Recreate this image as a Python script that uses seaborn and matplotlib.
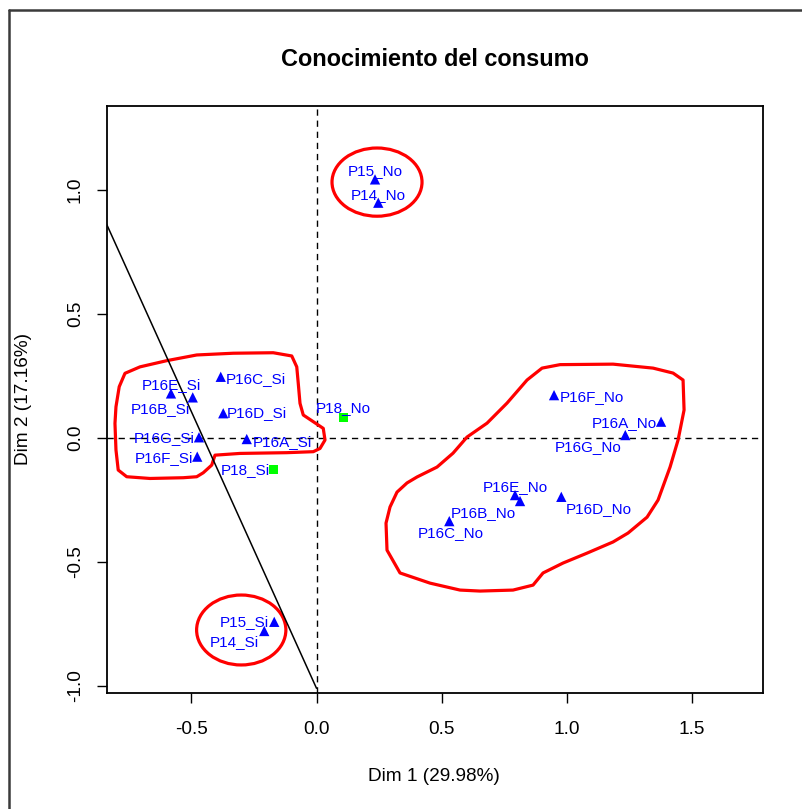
import numpy as np
import pandas as pd
import seaborn as sns
import matplotlib
matplotlib.use("Agg")
import matplotlib.pyplot as plt
from matplotlib.lines import Line2D
from matplotlib.patches import Ellipse, Polygon

# Category coordinates on the first two dimensions
categories = ["P15_No", "P14_No", "P16F_No", "P16A_No", "P16G_No", "P16E_No",
              "P16B_No", "P16D_No", "P16C_No",
              "P16C_Si", "P16E_Si", "P16B_Si", "P16D_Si", "P16G_Si", "P16A_Si",
              "P16F_Si", "P15_Si", "P14_Si"]
dim1 = [0.234, 0.247, 0.950, 1.378, 1.235, 0.794, 0.814, 0.979, 0.531,
        -0.383, -0.582, -0.495, -0.373, -0.470, -0.279, -0.477, -0.169, -0.209]
dim2 = [1.041, 0.947, 0.171, 0.064, 0.010, -0.232, -0.256, -0.239, -0.337,
        0.245, 0.178, 0.162, 0.098, 0.001, -0.006, -0.077, -0.743, -0.780]

# Supplementary categories
sup_categories = ["P18_No", "P18_Si"]
sup_dim1 = [0.108, -0.173]
sup_dim2 = [0.082, -0.128]

# Label placement: (horizontal alignment, dx px, dy px)
label_place = {
    "P15_No": ("center", 0, 8), "P14_No": ("center", 0, 8),
    "P16F_No": ("left", 6, -2), "P16A_No": ("right", -4, -1),
    "P16G_No": ("right", -4, -12), "P16E_No": ("center", 0, 8),
    "P16B_No": ("right", -4, -12), "P16D_No": ("left", 4, -12),
    "P16C_No": ("center", 1, -12),
    "P16C_Si": ("left", 5, -2), "P16E_Si": ("center", 0, 8),
    "P16B_Si": ("right", -3, -12), "P16D_Si": ("left", 4, 0),
    "P16G_Si": ("right", -4, -1), "P16A_Si": ("left", 6, -3),
    "P16F_Si": ("right", -4, -1), "P15_Si": ("right", -5, 0),
    "P14_Si": ("right", -5, -11),
    "P18_No": ("center", 0, 9), "P18_Si": ("right", -3, -1),
}

# Hand-drawn group outlines (data coordinates)
left_group_x = [-0.766, -0.706, -0.599, -0.479, -0.333, -0.173, -0.099, -0.079, -0.073,
                -0.066, -0.053, -0.013, 0.027, 0.034, 0.014, -0.013, -0.119, -0.306,
                -0.406, -0.419, -0.453, -0.479, -0.533, -0.666, -0.759, -0.793,
                -0.802, -0.806, -0.802, -0.789]
left_group_y = [0.259, 0.285, 0.310, 0.333, 0.340, 0.342, 0.329, 0.285, 0.219,
                0.138, 0.091, 0.064, 0.037, -0.010, -0.044, -0.057, -0.061, -0.064,
                -0.071, -0.111, -0.142, -0.158, -0.162, -0.165, -0.158, -0.131,
                -0.050, 0.057, 0.124, 0.205]
right_group_x = [0.902, 0.974, 1.186, 1.346, 1.426, 1.466, 1.470, 1.446, 1.414, 1.366,
                 1.322, 1.246, 1.186, 1.082, 0.986, 0.906, 0.866, 0.786, 0.654, 0.574,
                 0.454, 0.334, 0.282, 0.278, 0.294, 0.322, 0.362, 0.402, 0.482, 0.546,
                 0.602, 0.682, 0.762, 0.842]
right_group_y = [0.280, 0.294, 0.296, 0.280, 0.260, 0.232, 0.111, -0.010, -0.119, -0.252,
                 -0.321, -0.385, -0.421, -0.466, -0.506, -0.546, -0.595, -0.615, -0.619,
                 -0.615, -0.587, -0.546, -0.454, -0.345, -0.280, -0.220, -0.183, -0.159,
                 -0.119, -0.063, 0.002, 0.058, 0.139, 0.232]
# (center x, center y, width, height)
top_ellipse = (0.242, 1.030, 0.36, 0.275)
bottom_ellipse = (-0.301, -0.776, 0.357, 0.282)

# Separating segment
sep_x = [-0.842, 0.0]
sep_y = [0.866, -1.011]

sns.set_style("white")
plt.rcParams["font.family"] = ["Liberation Sans", "DejaVu Sans"]
plt.rcParams["text.color"] = "black"
plt.rcParams["axes.labelcolor"] = "black"
plt.rcParams["xtick.color"] = "black"
plt.rcParams["ytick.color"] = "black"

fig = plt.figure(figsize=(8.03, 8.09), dpi=100)
ax = fig.add_axes([0.1329, 0.1434, 0.8177, 0.7256])

df = pd.DataFrame({"cat": categories, "d1": dim1, "d2": dim2})
df_sup = pd.DataFrame({"cat": sup_categories, "d1": sup_dim1, "d2": sup_dim2})

ax.axhline(0, color="black", lw=1.0, ls=(0, (4.5, 3.5)), zorder=1)
ax.axvline(0, color="black", lw=1.0, ls=(0, (4.5, 3.5)), zorder=1)

sns.scatterplot(data=df, x="d1", y="d2", marker="^", color="#0000FF", s=55,
                edgecolor="none", ax=ax, zorder=3, legend=False)
sns.scatterplot(data=df_sup, x="d1", y="d2", marker="s", color="#00FF00", s=40,
                edgecolor="none", ax=ax, zorder=3, legend=False)

for frame in (df, df_sup):
    for _, row in frame.iterrows():
        ha, dx, dy = label_place[row["cat"]]
        ax.annotate(row["cat"], (row["d1"], row["d2"]), xytext=(dx, dy),
                    textcoords="offset pixels", ha=ha, va="center",
                    color="#0000FF", fontsize=11, zorder=4)

# Group outlines
red_kw = dict(fill=False, edgecolor="#FF0000", lw=2.3, joinstyle="round", zorder=2)
ax.add_patch(Polygon(np.column_stack([left_group_x, left_group_y]), closed=True, **red_kw))
ax.add_patch(Polygon(np.column_stack([right_group_x, right_group_y]), closed=True, **red_kw))
for cx, cy, w, h in (top_ellipse, bottom_ellipse):
    ax.add_patch(Ellipse((cx, cy), w, h, **red_kw))

ax.plot(sep_x, sep_y, color="black", lw=1.1, zorder=2)

ax.set_xlim(-0.839, 1.787)
ax.set_ylim(-1.030, 1.337)
ax.set_xticks([-0.5, 0.0, 0.5, 1.0, 1.5])
ax.set_xticklabels(["-0.5", "0.0", "0.5", "1.0", "1.5"])
ax.set_yticks([-1.0, -0.5, 0.0, 0.5, 1.0])
ax.set_yticklabels(["-1.0", "-0.5", "0.0", "0.5", "1.0"], rotation=90, va="center")
ax.tick_params(axis="both", direction="out", length=7.5, width=1.0, color="black",
               labelsize=13.7, labelcolor="black", bottom=True, left=True)
ax.tick_params(axis="x", pad=13)
ax.tick_params(axis="y", pad=9)
for sp in ax.spines.values():
    sp.set_color("black")
    sp.set_linewidth(1.3)

ax.set_xlabel("Dim 1 (29.98%)", fontsize=13.7, color="black")
ax.set_ylabel("Dim 2 (17.16%)", fontsize=13.7, color="black")
ax.xaxis.label.set_va("center")
ax.yaxis.label.set_va("center")
ax.xaxis.set_label_coords(0.499, -0.1430)
ax.yaxis.set_label_coords(-0.127, 0.500)

fig.text(435 / 803, 1 - 60 / 809, "Conocimiento del consumo", ha="center", va="center",
         fontsize=16.9, fontweight="bold", color="black")

# Outer frame (top and left edges)
fig.add_artist(Line2D([9.5 / 803, 1.0], [1 - 9.5 / 809, 1 - 9.5 / 809],
                      transform=fig.transFigure, color="#3a3a3a", lw=1.8))
fig.add_artist(Line2D([9.5 / 803, 9.5 / 803], [0.0, 1 - 9.5 / 809],
                      transform=fig.transFigure, color="#3a3a3a", lw=1.8))

fig.savefig("out.png", dpi=100)
